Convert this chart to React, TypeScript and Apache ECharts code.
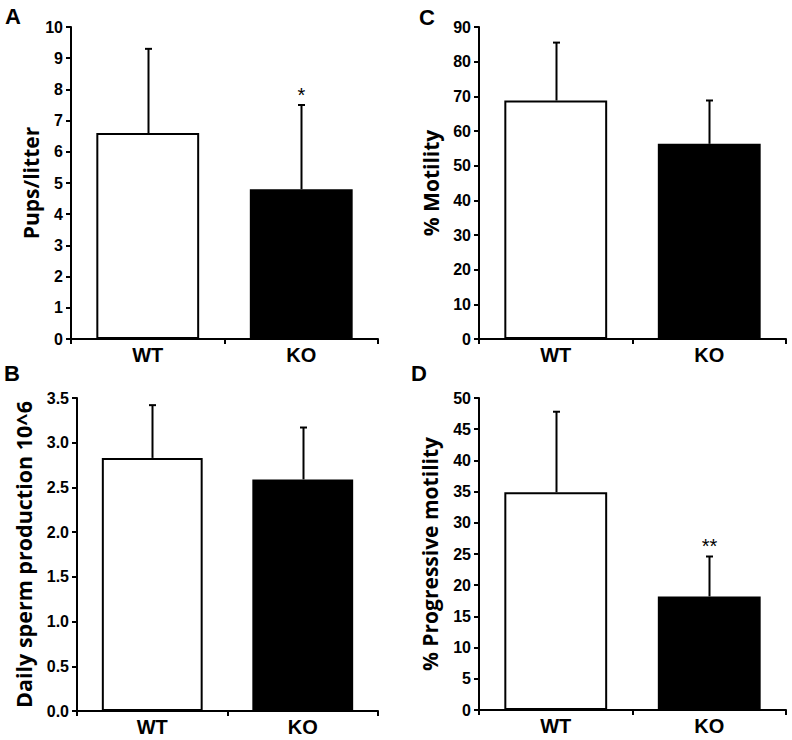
import React, { useEffect, useRef } from "react";
import * as echarts from "echarts";

const categories = ["WT", "KO"];

// Panel A: Pups/litter
const pupsMean = [6.6, 4.8];
const pupsUpper = [9.3, 7.5];
const pupsStars = ["", "*"];

// Panel B: Daily sperm production 10^6
const dspMean = [2.83, 2.59];
const dspUpper = [3.42, 3.17];
const dspStars = ["", ""];

// Panel C: % Motility
const motMean = [68.8, 56.3];
const motUpper = [85.5, 68.8];
const motStars = ["", ""];

// Panel D: % Progressive motility
const progMean = [34.9, 18.2];
const progUpper = [47.8, 24.6];
const progStars = ["", "**"];

const panelLetters = ["A", "B", "C", "D"];
const yNames = ["Pups/litter", "Daily sperm production 10^6", "% Motility", "% Progressive motility"];
const yMax = [10, 3.5, 90, 50];
const yInterval = [1, 0.5, 10, 5];

const panels = [
  { mean: pupsMean, upper: pupsUpper, stars: pupsStars },
  { mean: dspMean, upper: dspUpper, stars: dspStars },
  { mean: motMean, upper: motUpper, stars: motStars },
  { mean: progMean, upper: progUpper, stars: progStars },
];

const W = 792;
const H = 740;

const grids = [
  { left: 71, right: W - 378, top: 27, bottom: H - 339 },
  { left: 77, right: W - 378, top: 398, bottom: H - 711 },
  { left: 479, right: W - 786, top: 27, bottom: H - 339 },
  { left: 479, right: W - 786, top: 398, bottom: H - 710 },
];
const nameGaps = [25, 43, 38, 39];
const nameSizes = [21, 21.5, 21, 21];
const letterPos = [
  [13, 16],
  [12, 373],
  [427, 17],
  [419, 373],
];

export default function App() {
  const ref = useRef<HTMLDivElement>(null);
  useEffect(() => {
    if (!ref.current) return;
    const chart = echarts.init(ref.current, undefined, { renderer: "svg" });

    const xAxis = panels.map((_, i) => ({
      type: "category",
      gridIndex: i,
      data: categories,
      boundaryGap: true,
      axisLine: { show: true, lineStyle: { color: "#000", width: 2 } },
      axisTick: { show: true, alignWithLabel: false, length: 5, lineStyle: { color: "#000", width: 2 } },
      axisLabel: {
        color: "#000",
        fontFamily: "Liberation Sans",
        fontWeight: "bold",
        fontSize: 20,
        margin: 6,
      },
    }));

    const yAxis = panels.map((_, i) => ({
      type: "value",
      gridIndex: i,
      min: 0,
      max: yMax[i],
      interval: yInterval[i],
      name: yNames[i],
      nameLocation: "middle",
      nameGap: nameGaps[i],
      nameTextStyle: {
        color: "#000",
        fontFamily: "Open Sans",
        fontWeight: "bold",
        fontSize: nameSizes[i],
      },
      splitLine: { show: false },
      axisLine: { show: true, lineStyle: { color: "#000", width: 2 } },
      axisTick: { show: true, length: 5, lineStyle: { color: "#000", width: 2 } },
      axisLabel: {
        color: "#000",
        fontFamily: "Liberation Sans",
        fontWeight: "bold",
        fontSize: 16,
        margin: 8,
        formatter: (v: number) => (i === 1 ? v.toFixed(1) : String(v)),
      },
    }));

    const series: any[] = [];
    panels.forEach((p, i) => {
      series.push({
        type: "bar",
        xAxisIndex: i,
        yAxisIndex: i,
        barWidth: "67%",
        data: p.mean.map((v, k) => ({
          value: v,
          itemStyle: {
            color: k === 0 ? "#ffffff" : "#000000",
            borderColor: "#000",
            borderWidth: 2,
          },
        })),
        z: 2,
      });
      series.push({
        type: "custom",
        xAxisIndex: i,
        yAxisIndex: i,
        z: 3,
        data: p.mean.map((v, k) => [k, v, p.upper[k]]),
        renderItem: (params: any, api: any) => {
          const idx = api.value(0);
          const base = api.coord([idx, api.value(1)]);
          const top = api.coord([idx, api.value(2)]);
          const x = Math.round(base[0]) + 0.5;
          const children: any[] = [
            {
              type: "line",
              shape: { x1: x, y1: base[1], x2: x, y2: top[1] },
              style: { stroke: "#000", lineWidth: 2 },
            },
            {
              type: "line",
              shape: { x1: x - 3.5, y1: top[1], x2: x + 3.5, y2: top[1] },
              style: { stroke: "#000", lineWidth: 2 },
            },
          ];
          const s = p.stars[params.dataIndex];
          if (s) {
            children.push({
              type: "text",
              x: x,
              y: top[1] - 10,
              style: {
                text: s,
                fill: "#000",
                font: '20px "Liberation Sans"',
                align: "center",
                verticalAlign: "middle",
              },
            });
          }
          return { type: "group", children };
        },
      });
    });

    const graphic = panelLetters.map((t, i) => ({
      type: "text",
      x: letterPos[i][0],
      y: letterPos[i][1],
      style: {
        text: t,
        fill: "#000",
        font: 'bold 22px "Liberation Sans"',
        align: "center",
        verticalAlign: "middle",
      },
    }));

    chart.setOption({
      animation: false,
      backgroundColor: "#fff",
      grid: grids,
      xAxis,
      yAxis,
      series,
      graphic,
    } as any);

    return () => chart.dispose();
  }, []);

  return (
    <div
      ref={ref}
      style={{ position: "fixed", left: 0, top: 0, width: W, height: H }}
    />
  );
}
